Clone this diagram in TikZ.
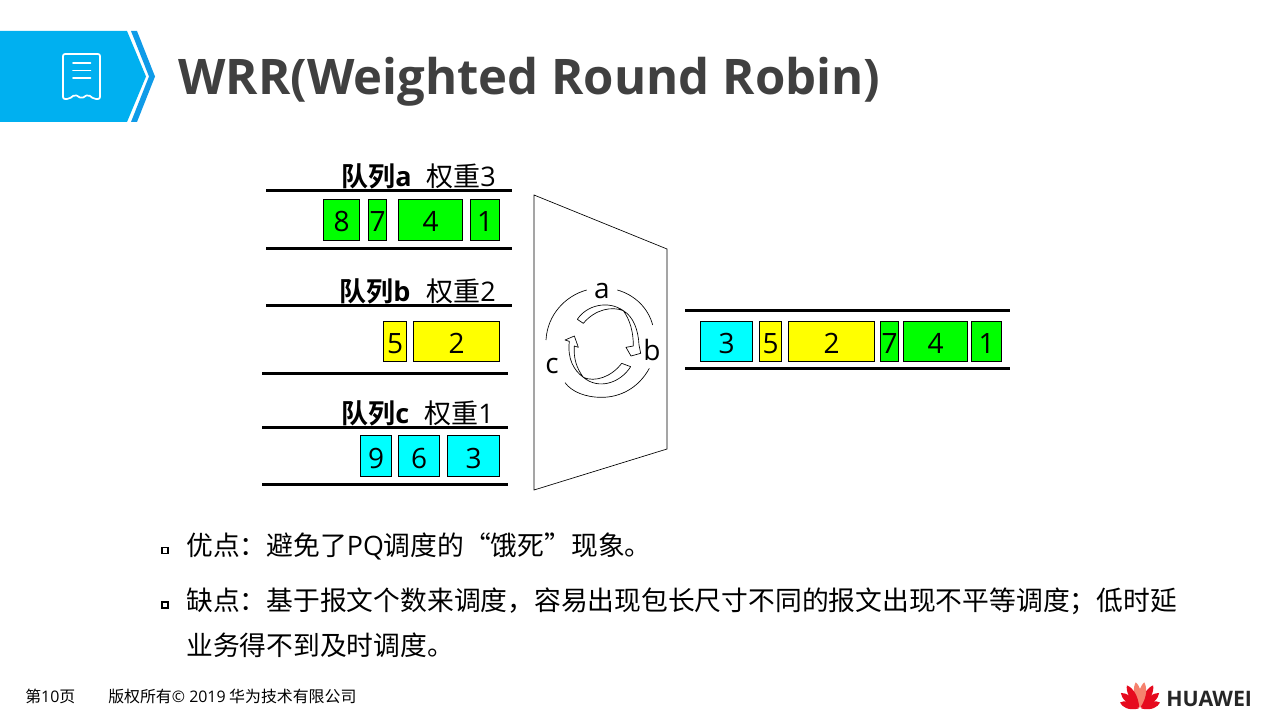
\documentclass[tikz,border=0pt]{standalone}
\usepackage{fontspec}
\setmainfont{Open Sans}
\newfontfamily\cjk{Noto Sans CJK SC}
\newfontfamily\cjkb{Noto Sans CJK SC Bold}
\newfontfamily\osb{Open Sans Bold}
\definecolor{hdr}{HTML}{00B0F0}
\definecolor{hdrb}{HTML}{0F9BE8}
\definecolor{ttl}{HTML}{404040}
\definecolor{qg}{HTML}{00FF00}
\definecolor{qy}{HTML}{FFFF00}
\definecolor{qc}{HTML}{00FFFF}
\definecolor{hw}{HTML}{E60A1E}
\definecolor{hwl}{HTML}{F5826E}
\tikzset{
 qline/.style={line width=2.25pt,black},
 pkt/.style={draw=black,line width=0.6pt,inner sep=0pt,text height=18pt,text depth=0pt,font=\fontsize{21}{21}\selectfont,text=black},
 lbl/.style={anchor=base west,inner sep=0pt,font=\fontsize{20.25}{24}\selectfont},
 bodytxt/.style={anchor=base west,inner sep=0pt,font=\fontsize{20.08}{24}\selectfont\cjk},
 foot/.style={anchor=base west,inner sep=0pt,font=\fontsize{11.93}{14}\selectfont\cjk},
 rr/.style={anchor=center,inner sep=0pt,font=\fontsize{21}{24}\selectfont},
 bul/.style={draw=black,line width=1.3pt,fill=white,minimum size=4.6pt,inner sep=0pt},
 thin line/.style={line width=0.5pt,black}
}
\newcommand{\pk}[7]{% name,x1,x2,y1,y2,colour,text
 \node[pkt,fill=#6,minimum width={(#3-#2)*0.75pt-0.2pt},minimum height={(#5-#4)*0.75pt-0.2pt}] (#1) at ({(#2+#3)/2},{(#4+#5)/2}) {#7};}
\begin{document}
\begin{tikzpicture}[x=0.75pt,y=-0.75pt]
\useasboundingbox (0,0) rectangle (1280,720);
% header
\fill[hdr] (0,31) -- (127,31) -- (146,76.5) -- (127,122) -- (0,122) -- cycle;
\fill[hdrb] (131,31) -- (137,31) -- (155,76.5) -- (137,122) -- (131,122) -- (149,76.5) -- cycle;
\draw[white,line width=1.3pt,line join=round,rounded corners=1.5pt] (63,54) -- (100,54) -- (100,99) -- (94,99) -- (88,94.5) -- (81.5,98.5) -- (75,94.5) -- (69,99) -- (63,99) -- cycle;
\draw[white,line width=1.3pt,line cap=round] (73,63) -- (90.5,63) (73,70.5) -- (90.5,70.5) (73,78) -- (90.5,78);
\node[anchor=base west,inner sep=0pt,text=ttl,font=\fontsize{36.8}{40}\selectfont\osb] (title) at (178,95) {WRR(Weighted Round Robin)};
% queue a
\draw[qline] (266,191) -- (511.5,191);
\draw[qline] (266,248) -- (511.5,248);
\node[lbl] (la) at (341,187) {{\cjkb 队列}{\osb a}};
\node[lbl] (wa) at (426,187) {{\cjk 权重}3};
\pk{a8}{323}{360}{199}{241}{qg}{8}
\pk{a7}{368}{387}{199}{241}{qg}{7}
\pk{a4}{398}{463}{199}{241}{qg}{4}
\pk{a1}{470}{500}{199}{241}{qg}{1}
% queue b
\draw[qline] (266,305) -- (511.5,305);
\draw[qline] (262,373) -- (507.5,373);
\node[lbl] (lb) at (339,301) {{\cjkb 队列}{\osb b}};
\node[lbl] (wb) at (426,301) {{\cjk 权重}2};
\pk{b5}{383}{407}{321}{362}{qy}{5}
\pk{b2}{413}{500}{321}{362}{qy}{2}
% queue c
\draw[qline] (262,427) -- (507.5,427);
\draw[qline] (262,484) -- (507.5,484);
\node[lbl] (lc) at (341,423) {{\cjkb 队列}{\osb c}};
\node[lbl] (wc) at (424,423) {{\cjk 权重}1};
\pk{c9}{360}{392}{435}{477}{qc}{9}
\pk{c6}{398}{440}{435}{477}{qc}{6}
\pk{c3}{447}{500}{435}{477}{qc}{3}
% scheduler
\draw[thin line,line join=miter,fill=white] (534,195) -- (667,249) -- (667,449) -- (534,490) -- cycle;
\begin{scope}[shift={(530,270)},x=0.25pt,y=-0.25pt]
\draw[thin line] (48,210) .. controls (52,135) and (105,78) .. (170,60);
\draw[thin line] (262,60) .. controls (315,75) and (355,115) .. (368,165);
\draw[thin line] (358,295) .. controls (325,355) and (270,382) .. (215,382) .. controls (165,382) and (125,365) .. (105,338);
\draw[thin line,fill=white,line join=round] (142,148) .. controls (170,105) and (235,90) .. (280,122) .. controls (310,140) and (325,180) .. (327,225) -- (332,250) -- (303,258) -- (288,232) -- (310,228) .. controls (310,185) and (300,150) .. (280,122) .. controls (245,108) and (195,118) .. (160,160) -- cycle;
\draw[thin line,fill=white,line join=round] (302,290) .. controls (270,340) and (205,360) .. (160,322) .. controls (130,300) and (112,265) .. (118,214) -- (105,210) -- (133,198) -- (145,232) -- (133,228) .. controls (130,265) and (140,295) .. (160,322) .. controls (195,338) and (245,320) .. (275,280) -- cycle;
\end{scope}
\node[rr] (ra) at (602,291) {a};
\node[rr] (rb) at (652,350) {b};
\node[rr] (rc) at (552,366) {c};
% output queue
\draw[qline] (685,310) -- (1010,310);
\draw[qline] (685,368) -- (1010,368);
\pk{o3}{700}{753}{321}{362}{qc}{3}
\pk{o5}{759}{782}{321}{362}{qy}{5}
\pk{o2}{788}{875}{321}{362}{qy}{2}
\pk{o7}{880}{899}{321}{362}{qg}{7}
\pk{o4}{903}{968}{321}{362}{qg}{4}
\pk{o1}{971}{1002}{321}{362}{qg}{1}
% bullets
\node[bul] (b1) at (165,550.5) {};
\node[bul] (b2x) at (165,605) {};
\node[bodytxt] (t1) at (186,555) {优点：避免了{\rmfamily PQ}调度的“饿死”现象。};
\node[bodytxt] (t2) at (186,610) {缺点：基于报文个数来调度，容易出现包长尺寸不同的报文出现不平等调度；低时延};
\node[bodytxt] (t3) at (186,655) {业务得不到及时调度。};
% footer
\node[foot] (f1) at (25,702) {第{\rmfamily 10}页};
\node[foot] (f2) at (108,702) {版权所有{\rmfamily © 2019} 华为技术有限公司};
% logo
\begin{scope}[shift={(1140,709)}]
\foreach \a/\l/\c in {-72/21/hw,-50/25/hw,-29/27/hw,-9/27/hwl,9/27/hwl,29/27/hw,50/25/hw,72/21/hw}{
 \fill[\c,rotate=\a] (0,-1.5) .. controls (-5.5,-{\l*0.5}) and (-3.5,-{\l*0.85}) .. (0,-\l) .. controls (3.5,-{\l*0.85}) and (5.5,-{\l*0.5}) .. (0,-1.5) -- cycle;
}
\end{scope}
\node[anchor=base west,inner sep=0pt,text=black!85,font=\fontsize{16}{16}\selectfont\osb] (hwt) at (1166,706) {HUAWEI};
\end{tikzpicture}
\end{document}
